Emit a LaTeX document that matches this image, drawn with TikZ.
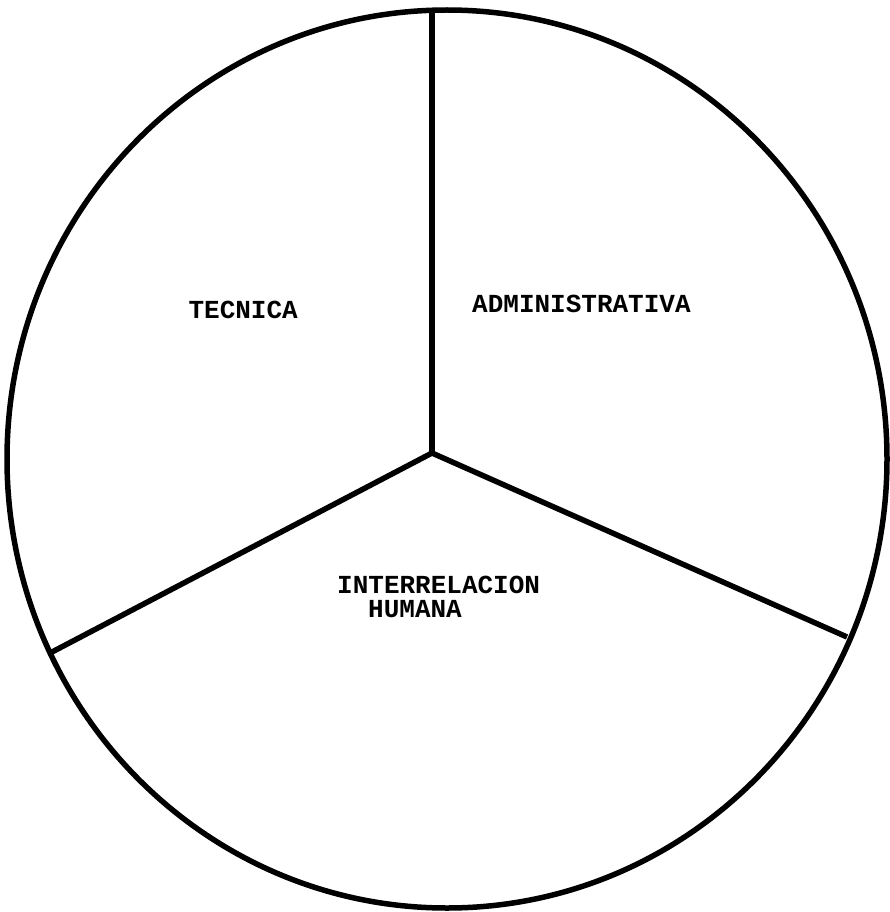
\documentclass[tikz,border=0pt]{standalone}
\usepackage{fontspec}
\setmonofont{Liberation Mono}
\begin{document}
\begin{tikzpicture}[x=1pt,y=-1pt,
  rim/.style={line width=5.5pt},
  divider/.style={line width=5.5pt},
  lbl/.style={inner sep=0pt,font=\ttfamily\bfseries\fontsize{26}{28}\selectfont}]
\useasboundingbox (0,0) rectangle (890,912);
\draw[rim] (447,459) ellipse [x radius=440, y radius=449];
\coordinate (c) at (432,453);
\coordinate (t) at (432,10);
\coordinate (l) at (52,652);
\coordinate (r) at (847,637);
\draw[divider] (c) -- (t);
\draw[divider] (c) -- (l);
\draw[divider] (c) -- (r);
\node[lbl,anchor=base east] (tec) at (298,318) {TECNICA};
\node[lbl,anchor=base west] (adm) at (472,312) {ADMINISTRATIVA};
\node[lbl,anchor=base west] (int) at (337,593) {INTERRELACION};
\node[lbl,anchor=base west] (hum) at (368,617) {HUMANA};
\end{tikzpicture}
\end{document}
